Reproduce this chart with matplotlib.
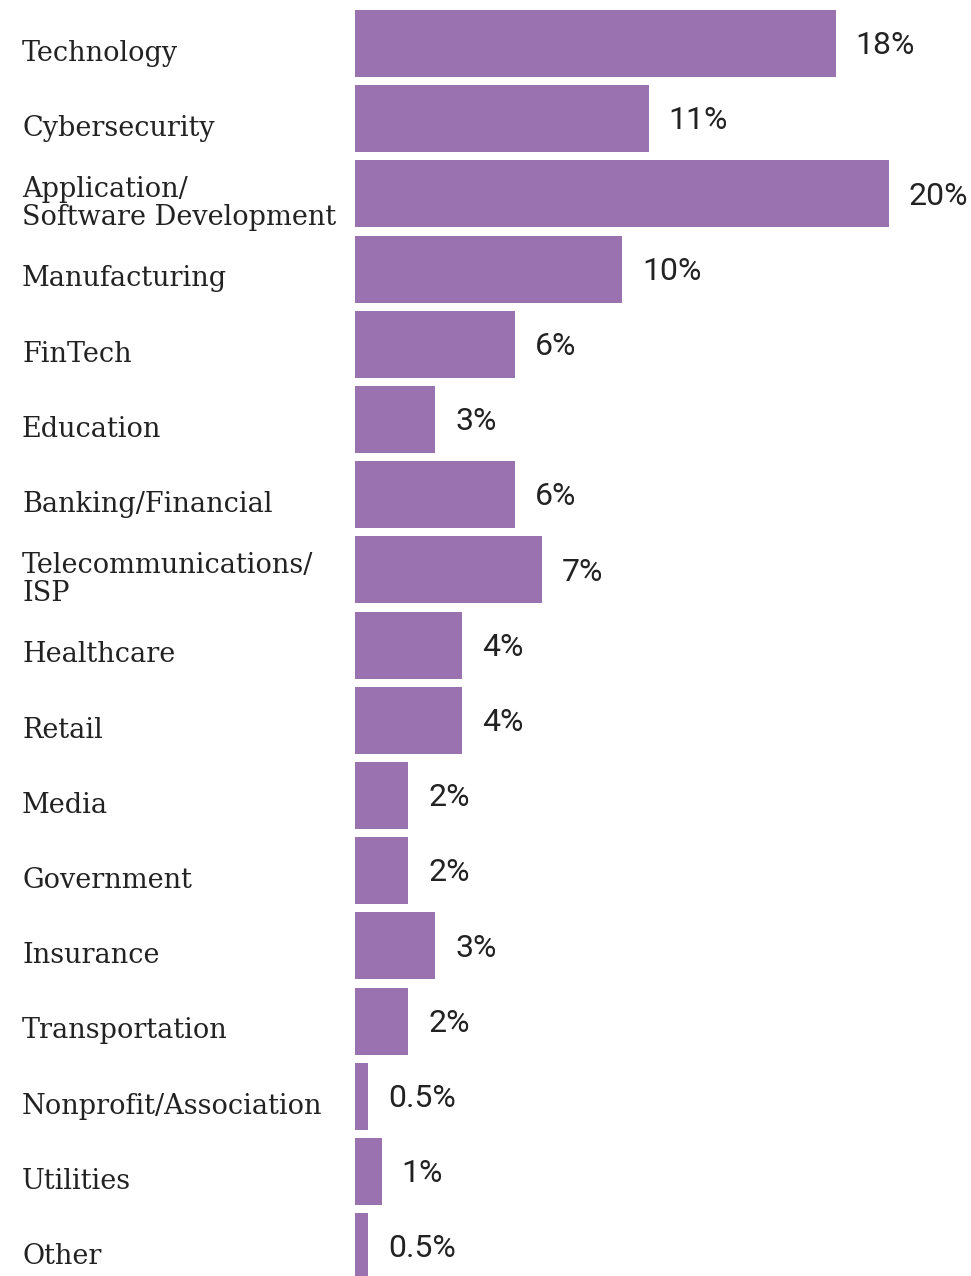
import matplotlib
matplotlib.use("Agg")
import matplotlib.pyplot as plt
import matplotlib.transforms as mtransforms


# DATA
industries = [
    "Technology", "Cybersecurity", "Application/\nSoftware Development",
    "Manufacturing", "FinTech", "Education", "Banking/Financial",
    "Telecommunications/\nISP", "Healthcare", "Retail", "Media",
    "Government", "Insurance", "Transportation", "Nonprofit/Association",
    "Utilities", "Other",
]
shares = [18, 11, 20, 10, 6, 3, 6, 7, 4, 4, 2, 2, 3, 2, 0.5, 1, 0.5]
share_labels = [
    "18%", "11%", "20%", "10%", "6%", "3%", "6%", "7%", "4%", "4%",
    "2%", "2%", "3%", "2%", "0.5%", "1%", "0.5%",
]

BAR_COLOR = "#9a72b0"
TEXT_COLOR = "#222222"


def plot_industries() -> None:
    """Horizontal bar chart of respondent industries"""
    fig = plt.figure(figsize=(9.71, 12.76), dpi=100)
    ax = fig.add_axes([355 / 971, 0, 534 / 971, 1])

    pos = list(range(len(industries)))
    ax.barh(pos, shares, height=0.89, color=BAR_COLOR)
    ax.set_xlim(0, 20)
    ax.set_ylim(16.39, -0.578)
    ax.axis("off")

    # Category names sit at a fixed x on the left of the figure
    trans = mtransforms.blended_transform_factory(fig.transFigure, ax.transData)
    for y, name in zip(pos, industries):
        ax.text(22 / 971, y + 0.13, name, transform=trans,
                ha="left", va="center", fontsize=19.5,
                family="DejaVu Serif", color=TEXT_COLOR,
                linespacing=1.05, clip_on=False)

    # Value labels just past the end of each bar
    offset = mtransforms.offset_copy(ax.transData, fig=fig, x=20, y=0,
                                     units="dots")
    for y, val, lab in zip(pos, shares, share_labels):
        ax.text(val, y + 0.03, lab, transform=offset,
                ha="left", va="center", fontsize=23,
                family="Roboto", color=TEXT_COLOR, clip_on=False)

    fig.savefig("out.png", dpi=100)
    plt.close(fig)


if __name__ == "__main__":
    plot_industries()
